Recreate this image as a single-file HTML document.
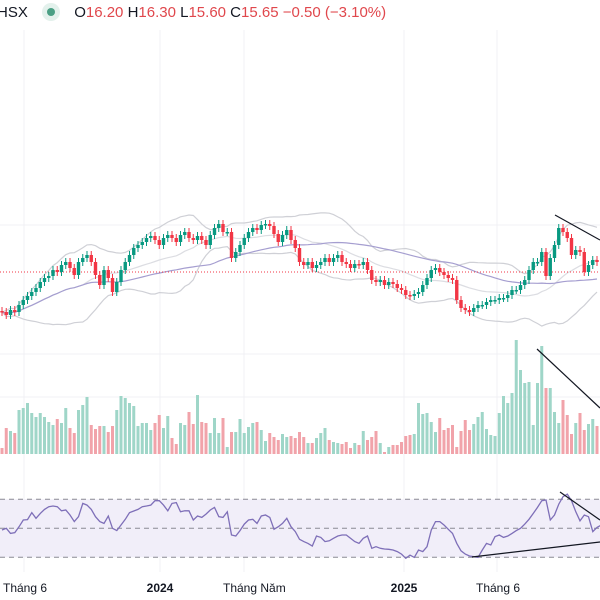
<!DOCTYPE html>
<html><head><meta charset="utf-8"><style>
body{margin:0;background:#fff;width:600px;height:600px;overflow:hidden;font-family:"Liberation Sans",sans-serif}
#hdr{position:absolute;left:0;top:3px;font-size:15px;color:#131722;white-space:nowrap}
#hdr .r{color:#e0474c}
svg{position:absolute;left:0;top:0}
</style></head><body>
<svg id="c" width="600" height="600"></svg>
<div id="hdr"><span style="margin-left:-3px">HSX</span>
<span style="display:inline-block;width:18px;height:18px;border-radius:50%;background:#e3f1ec;vertical-align:-4px;margin-left:10px;position:relative"><span style="position:absolute;left:5px;top:5px;width:8px;height:8px;border-radius:50%;background:#4a9f84"></span></span>
<span style="margin-left:10px">O<span class="r">16.20</span> H<span class="r">16.30</span> L<span class="r">15.60</span> C<span class="r">15.65</span> <span class="r">−0.50 (−3.10%)</span></span></div>
<script>
const closes=[13.65,13.5,13.75,13.65,14.0,14.25,14.45,14.65,14.85,15.15,15.35,15.45,15.75,15.65,16.0,16.15,15.85,15.5,16.15,16.35,16.5,16.15,15.5,15.0,15.75,15.35,14.65,15.15,15.75,16.15,16.5,16.85,17.0,17.15,17.35,17.45,17.25,17.0,17.35,17.5,17.35,17.15,17.5,17.65,17.35,17.25,17.45,17.25,17.0,17.5,17.85,18.05,17.65,17.65,16.35,16.65,17.0,17.35,17.65,17.85,17.75,18.0,18.05,17.95,17.55,17.15,17.5,17.75,17.25,16.85,16.15,16.0,16.15,15.85,16.0,16.15,16.35,16.15,16.35,16.5,16.15,16.05,15.85,16.05,16.0,16.15,15.75,15.25,15.15,15.25,15.0,15.15,15.05,14.85,14.75,14.5,14.45,14.55,14.65,15.0,15.35,15.75,15.85,15.65,15.5,15.35,15.25,14.25,13.85,13.75,13.65,13.85,14.0,14.0,14.15,14.25,14.25,14.35,14.35,14.5,14.75,14.75,15.0,15.25,15.75,16.15,16.15,16.65,15.45,16.35,17.0,17.85,17.65,17.35,16.5,16.75,16.65,15.65,16.0,16.25,16.15];
const volumes=[6,26,23,21,44,46,51,41,37,41,37,32,29,35,31,46,26,21,44,49,57,29,25,28,28,22,28,44,58,56,51,48,28,31,31,24,31,39,26,38,16,10,31,29,42,30,59,32,31,21,36,21,36,7,22,22,35,21,27,31,32,24,13,21,17,14,20,17,18,16,22,17,11,11,16,21,26,14,12,11,10,12,6,11,9,23,14,17,23,11,2,7,9,9,12,18,19,20,51,40,41,32,22,36,24,26,29,7,23,34,24,30,37,42,25,19,18,41,58,51,61,114,84,71,72,29,71,108,66,66,42,31,54,39,20,31,41,24,30,35,28,33];
const rsi=[48.8,50,46.5,47,51,55.7,56,60.8,56.9,60.3,63,64.9,65.4,64.9,62.1,62.6,59.2,54.6,58,67.2,66,63,58,54.6,53.4,58.5,50,48.4,52.3,56.2,60.8,61.9,63,64.9,65.4,66,69,69,66,62.1,67.2,67.7,61.4,62.1,62.1,55.7,58.5,57.5,59.8,62.6,64.4,58,57.5,61.4,45.4,44.7,48.4,52.9,55.7,56.2,53.4,58.5,59.2,57.5,49.3,51.1,53.4,56.9,51.1,47.7,42.4,40.8,39.6,37.8,44.7,43.7,40.8,41.4,43.1,44.7,45.4,45.4,43.1,40.8,39.6,43.1,44.7,36.2,37.3,36.2,35.7,35.5,35,33.9,32.2,29.3,31.5,29.9,35,33.9,37.3,48.8,54.6,54.6,52.3,49.3,46.5,39.6,34.5,32.2,30.9,30.4,29.9,35,39.6,38.5,44.2,45.4,43.7,44.7,46.5,48.4,50,52.9,56.2,60.3,64.4,69,69.5,55.7,59.2,66.7,71.8,73.6,69,61.4,55.2,59.2,58,47.7,50.6,52.3,54.6];
const xLabels=["Tháng 6","2024","Tháng Năm","2025","Tháng 6"];
const xLabelPos=[24,160,244,404,497];
const lastClose=15.65;

const svg=document.getElementById('c');const NS='http://www.w3.org/2000/svg';
function el(t,a,p){const e=document.createElementNS(NS,t);for(const k in a)e.setAttribute(k,a[k]);(p||svg).appendChild(e);return e;}
const xOf=i=>2+4.25*i;
const yP=p=>272-(p-lastClose)*20;
const yV=v=>454-v;
const yR=r=>528.3-(r-50)*1.45;
const G='#089981',R='#f23645';

xLabelPos.forEach((x,k)=>{const l=el('line',{x1:x,x2:x,y1:30,y2:572,stroke:'#f0f1f4','stroke-width':1});
});
[225,354,397].forEach(y=>{const l=el('line',{x1:0,x2:600,y1:y,y2:y,stroke:'#f0f1f4'});
});

function sma(n,i){let s=0,c=0;for(let j=Math.max(0,i-n+1);j<=i;j++){s+=closes[j];c++;}return s/c;}
function sd(n,i){const m=sma(n,i);let s=0,c=0;for(let j=Math.max(0,i-n+1);j<=i;j++){s+=(closes[j]-m)**2;c++;}return Math.sqrt(s/c);}
function poly(f,stroke,name){let d='';closes.forEach((_,i)=>{d+=(i?'L':'M')+xOf(i).toFixed(1)+' '+yP(f(i)).toFixed(1);});
const p=el('path',{d,fill:'none',stroke,'stroke-width':1.2});}
poly(i=>sma(20,i)+2*sd(20,i),'#cfd0d6','bollinger-upper');
poly(i=>sma(20,i)-2*sd(20,i),'#cfd0d6','bollinger-lower');
poly(i=>sma(20,i),'#dcdde2','bollinger-basis');
poly(i=>sma(50,i),'#a59ed0','ma-50');

const dl=el('line',{x1:0,x2:600,y1:yP(lastClose),y2:yP(lastClose),stroke:'#f23645','stroke-width':1,'stroke-dasharray':'1 2'});


closes.forEach((c,i)=>{
 const o=i?closes[i-1]:c+0.05;const up=c>=o;const col=up?G:R;const x=xOf(i);
 const hi=Math.max(o,c)+0.2,lo=Math.min(o,c)-0.2;
 const w=el('line',{x1:x,x2:x,y1:yP(hi),y2:yP(lo),stroke:col,'stroke-width':1});
 
 const top=yP(Math.max(o,c)),h=Math.max(1.5,yP(Math.min(o,c))-top);
 const b=el('rect',{x:x-1.7,y:top,width:3.4,height:h,fill:col});
 
 if(volumes[i]!==undefined){const v=el('rect',{x:x-1.5,y:yV(volumes[i]),width:3,height:volumes[i],fill:up?'#9fd6c8':'#f1a3aa'});
 }
});

const bg=el('rect',{x:0,y:yR(70),width:600,height:yR(30)-yR(70),fill:'#f1eef9'});

[70,50,30].forEach(v=>{const l=el('line',{x1:0,x2:600,y1:yR(v),y2:yR(v),stroke:'#8a8a94','stroke-width':1,'stroke-dasharray':'5 4'});
});
let d='';rsi.forEach((r,i)=>{d+=(i?'L':'M')+xOf(i).toFixed(1)+' '+yR(r).toFixed(1);});
const rp=el('path',{d,fill:'none',stroke:'#7e6fb8','stroke-width':1.3});


[[555,215,600,240,'price-trendline'],[537,349,600,408,'volume-trendline'],[560,492,600,520,'rsi-trendline-upper'],[472,557,600,542,'rsi-trendline-lower']].forEach(t=>{
 const l=el('line',{x1:t[0],y1:t[1],x2:t[2],y2:t[3],stroke:'#131722','stroke-width':1.2});
 });

xLabels.forEach((s,k)=>{const bold=/^\d+$/.test(s);
 const t=el('text',{x:bold?xLabelPos[k]:xLabelPos[k]-21,y:592,'font-size':12,'font-weight':bold?'bold':'normal','text-anchor':bold?'middle':'start',fill:'#131722','font-family':'Liberation Sans, sans-serif'});
 t.textContent=s;});
</script>
</body></html>
